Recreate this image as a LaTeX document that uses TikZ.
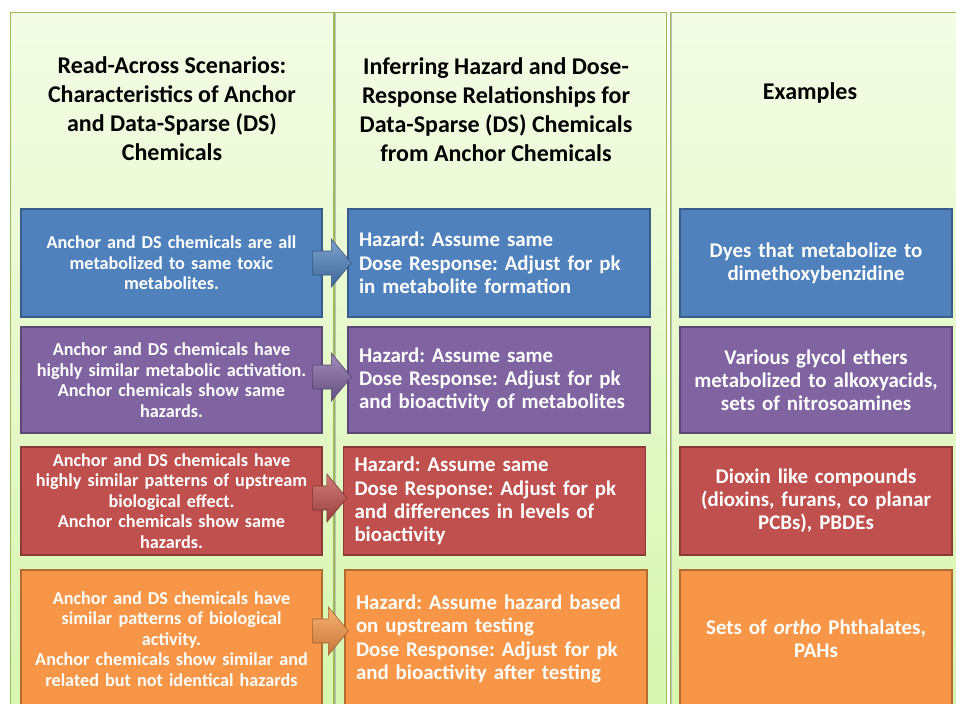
\documentclass[tikz,border=0pt]{standalone}
\usepackage{fontspec}
\setmainfont{Carlito}
\usetikzlibrary{calc}

\definecolor{colline}{HTML}{9BBB59}
\definecolor{coltop}{HTML}{F4FCE6}
\definecolor{colbot}{HTML}{D6F6AE}
\definecolor{boxblue}{HTML}{4F81BD}
\definecolor{boxpurple}{HTML}{8064A2}
\definecolor{boxred}{HTML}{C0504D}
\definecolor{boxorange}{HTML}{F79646}

\tikzset{
  column/.style={draw=colline, line width=1pt, top color=coltop, bottom color=colbot},
  header/.style={font=\bfseries\fontsize{24}{29}\selectfont, align=center},
  box/.style={draw=#1!72!black, fill=#1, line width=1.3pt, text=white, inner sep=0pt},
  scen/.style={box=#1, minimum width=301, text width=295, align=center,
    font=\bfseries\frenchspacing\fontsize{18.2}{20.6}\selectfont},
  infer/.style={box=#1, inner xsep=11, text width=280, align=left,
    font=\bfseries\frenchspacing\fontsize{20.9}{23.3}\selectfont},
  exam/.style={box=#1, minimum width=272, text width=266, align=center,
    font=\bfseries\frenchspacing\fontsize{20.9}{23}\selectfont},
  barrow/.style={draw=#1!65!black, line width=0.6pt, top color=#1!75!white,
    middle color=#1, bottom color=#1!80!black}
}

\begin{document}
\begin{tikzpicture}[x=1pt, y=-1pt]
        \clip (0,0) rectangle (956,704);
        \fill[white] (0,0) rectangle (956,704);

        \draw[column] (10,12) rectangle (333,720);
        \draw[column] (334,12) rectangle (666,720);
        \draw[column] (670,12) rectangle (975,720);
        \draw[black!25, line width=1pt] (335.5,13) -- (335.5,720);
        \draw[black!25, line width=1pt] (671.5,13) -- (671.5,720);

        \node[header] (hd1) at (172,109) {Read-Across Scenarios:\\Characteristics of Anchor\\and Data-Sparse (DS)\\Chemicals};
        \node[header] (hd2) at (496,110) {Inferring Hazard and Dose-\\Response Relationships for\\Data-Sparse (DS) Chemicals\\from Anchor Chemicals};
        \node[header] (hd3) at (810,93) {Examples};

        \node[scen=boxblue, minimum height=108] (s1) at (171.5,263) {Anchor and DS chemicals are all\\metabolized to same toxic\\metabolites.};
        \node[scen=boxpurple, minimum height=106] (s2) at (171.5,380) {Anchor and DS chemicals have\\highly similar metabolic activation.\\Anchor chemicals show same\\hazards.};
        \node[scen=boxred, minimum height=108] (s3) at (171.5,501) {Anchor and DS chemicals have\\highly similar patterns of upstream\\biological effect.\\Anchor chemicals show same\\hazards.};
        \node[scen=boxorange, minimum height=138] (s4) at (171.5,639) {Anchor and DS chemicals have\\similar patterns of biological\\activity.\\Anchor chemicals show similar and\\related but not identical hazards};

        \node[infer=boxblue, minimum width=302, minimum height=108] (h1) at (499,263) {Hazard: Assume same\\Dose Response: Adjust for pk\\in metabolite formation};
        \node[infer=boxpurple, minimum width=302, minimum height=106] (h2) at (499,380) {Hazard: Assume same\\Dose Response: Adjust for pk\\and bioactivity of metabolites};
        \node[infer=boxred, minimum width=301, minimum height=108] (h3) at (494.5,501) {Hazard: Assume same\\Dose Response: Adjust for pk\\and differences in levels of\\bioactivity};
        \node[infer=boxorange, minimum width=300, minimum height=138] (h4) at (496,639) {Hazard: Assume hazard based\\on upstream testing\\Dose Response: Adjust for pk\\and bioactivity after testing};

        \node[exam=boxblue, minimum height=108] (e1) at (816,263) {Dyes that metabolize to\\dimethoxybenzidine};
        \node[exam=boxpurple, minimum height=106] (e2) at (816,380) {Various glycol ethers\\metabolized to alkoxyacids,\\sets of nitrosoamines};
        \node[exam=boxred, minimum height=108] (e3) at (816,501) {Dioxin like compounds\\(dioxins, furans, co planar\\PCBs), PBDEs};
        \node[exam=boxorange, minimum height=138] (e4) at (816,639) {Sets of \textit{ortho} Phthalates,\\PAHs};

        \foreach \r/\c/\dy in {1/boxblue/0, 2/boxpurple/3, 3/boxred/3, 4/boxorange/8}
          \path[barrow=\c] let \p1=([yshift=\dy pt]s\r.east), \p2=(h\r.west) in
            (\x1-10pt,\y1+12pt) -- (\x2-16pt,\y1+12pt) -- (\x2-16pt,\y1+24pt) -- (\x2+4pt,\y1)
            -- (\x2-16pt,\y1-24pt) -- (\x2-16pt,\y1-12pt) -- (\x1-10pt,\y1-12pt) -- cycle;
      \end{tikzpicture}
\end{document}
